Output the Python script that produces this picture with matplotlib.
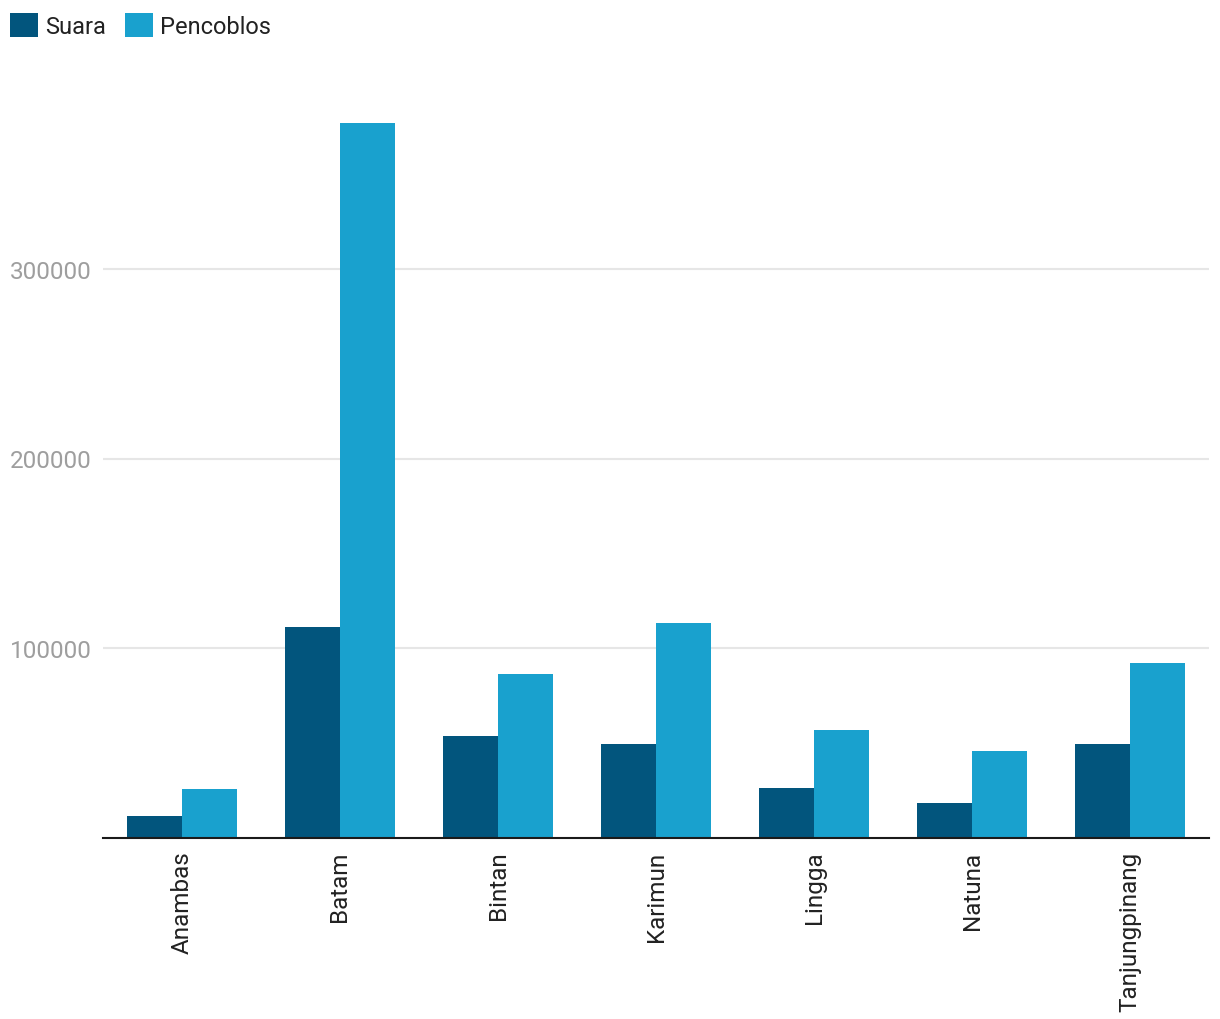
import matplotlib.pyplot as plt
import numpy as np

plt.rcParams['font.family'] = ['Roboto', 'DejaVu Sans']

wilayah = ['Anambas', 'Batam', 'Bintan', 'Karimun', 'Lingga', 'Natuna', 'Tanjungpinang']
suara = [11600, 111000, 53800, 49600, 26400, 18500, 49600]
pencoblos = [25900, 376800, 86500, 113500, 57000, 45900, 92300]

c_suara = '#02557d'
c_pencoblos = '#19a1ce'

fig = plt.figure(figsize=(12.2, 10.2), dpi=100)
ax = fig.add_axes([103 / 1220, 1 - 839 / 1020, 1106 / 1220, 759 / 1020])

x = np.arange(len(wilayah))
w = 0.35
b1 = ax.bar(x - w / 2, suara, w, color=c_suara, label='Suara', zorder=3)
b2 = ax.bar(x + w / 2, pencoblos, w, color=c_pencoblos, label='Pencoblos', zorder=3)

ax.set_xlim(-0.5, len(wilayah) - 0.5)
ax.set_ylim(0, 400000)
ax.set_yticks([100000, 200000, 300000])
ax.set_yticklabels(['100000', '200000', '300000'])
ax.grid(axis='y', color='#e6e6e6', linewidth=1.5, zorder=0)

ax.set_xticks(x)
ax.set_xticklabels(wilayah, rotation=90)
ax.tick_params(axis='x', length=0, pad=9, labelsize=17.5, labelcolor='#222222')
ax.tick_params(axis='y', length=0, pad=8, labelsize=17.5, labelcolor='#9e9e9e')

for s in ['top', 'right', 'left']:
    ax.spines[s].set_visible(False)
ax.spines['bottom'].set_color('#1a1a1a')
ax.spines['bottom'].set_linewidth(1.5)
ax.spines['bottom'].set_zorder(4)

fig.legend(handles=[b1, b2], loc='upper left', bbox_to_anchor=(-0.0035, 1.0), ncol=2,
           frameon=False, fontsize=17, handlelength=1.2, handleheight=1.2,
           handletextpad=0.3, columnspacing=0.8, borderaxespad=0.2,
           labelcolor='#222222')

fig.savefig('out.png', dpi=100, facecolor='white')
